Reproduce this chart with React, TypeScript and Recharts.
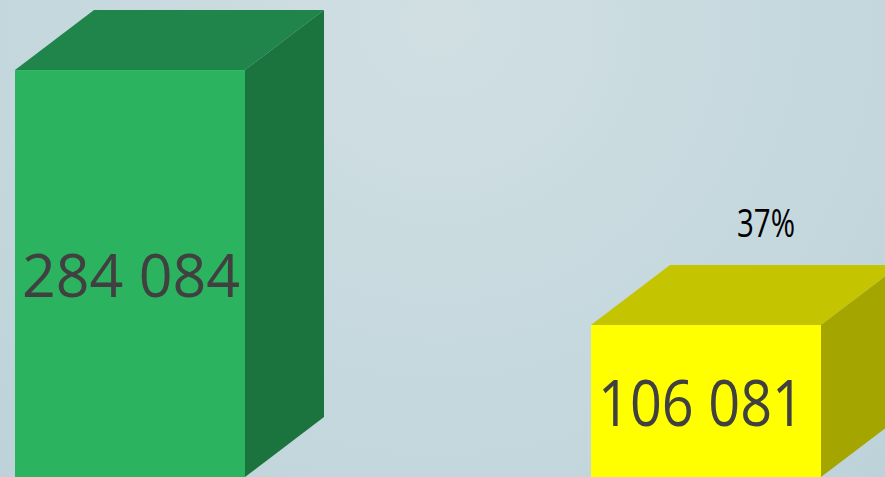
import { BarChart, Bar, XAxis, YAxis } from "recharts";

const categories = ["Total", "Part"];
const values = [284084, 106081];
const valueLabels = ["284 084", "106 081"];
const shareLabels = ["", "37%"];

const frontColors = ["#2bb35f", "#ffff00"];
const topColors = ["#20854a", "#c4c400"];
const sideColors = ["#1b733d", "#a5a500"];

const DX = 79;
const DY = 60;

const data = categories.map((name, i) => ({
  name,
  value: values[i],
  label: valueLabels[i],
  share: shareLabels[i],
  idx: i,
}));

function Box(props: any) {
  const { x, y, width, height, payload } = props;
  const i = payload.idx;
  const bottom = y + height;
  const right = x + width;
  const top = `${x},${y} ${x + DX},${y - DY} ${right + DX},${y - DY} ${right},${y}`;
  const side = `${right},${y} ${right + DX},${y - DY} ${right + DX},${bottom - DY} ${right},${bottom}`;
  const fs = i === 0 ? 60 : 64;
  return (
    <g>
      <polygon points={top} fill={topColors[i]} />
      <polygon points={side} fill={sideColors[i]} />
      <rect x={x} y={y} width={width} height={height} fill={frontColors[i]} />
      <text
        x={x + width / 2 - (i === 0 ? -1 : 5)}
        y={y + height / 2}
        textAnchor="middle"
        dominantBaseline="central"
        fontFamily="'Open Sans', sans-serif"
        fontSize={fs}
        fill="#404040"
        textLength={i === 0 ? 218 : 206}
        lengthAdjust="spacingAndGlyphs"
      >
        {payload.label}
      </text>
      {payload.share && (
        <text
          x={x + width / 2 + 60}
          y={y - 103}
          textAnchor="middle"
          dominantBaseline="central"
          fontFamily="'Open Sans', sans-serif"
          fontSize={38}
          fill="#000000"
          textLength={58}
          lengthAdjust="spacingAndGlyphs"
        >
          {payload.share}
        </text>
      )}
    </g>
  );
}

export default function App() {
  return (
    <div
      style={{
        position: "absolute",
        top: 0,
        left: 0,
        width: 885,
        height: 477,
        overflow: "hidden",
        background:
          "radial-gradient(circle at 440px 20px, #d1dfe3 0%, #c8dadf 45%, #bdd3d9 100%)",
      }}
    >
      <div style={{ position: "absolute", top: 0, left: -158 }}>
        <BarChart
          width={1152}
          height={477}
          data={data}
          margin={{ top: 0, right: 0, bottom: 0, left: 0 }}
          barCategoryGap={0}
        >
          <XAxis dataKey="name" hide />
          <YAxis hide domain={[0, 333000]} />
          <Bar dataKey="value" barSize={230} shape={Box} isAnimationActive={false} />
        </BarChart>
      </div>
    </div>
  );
}
